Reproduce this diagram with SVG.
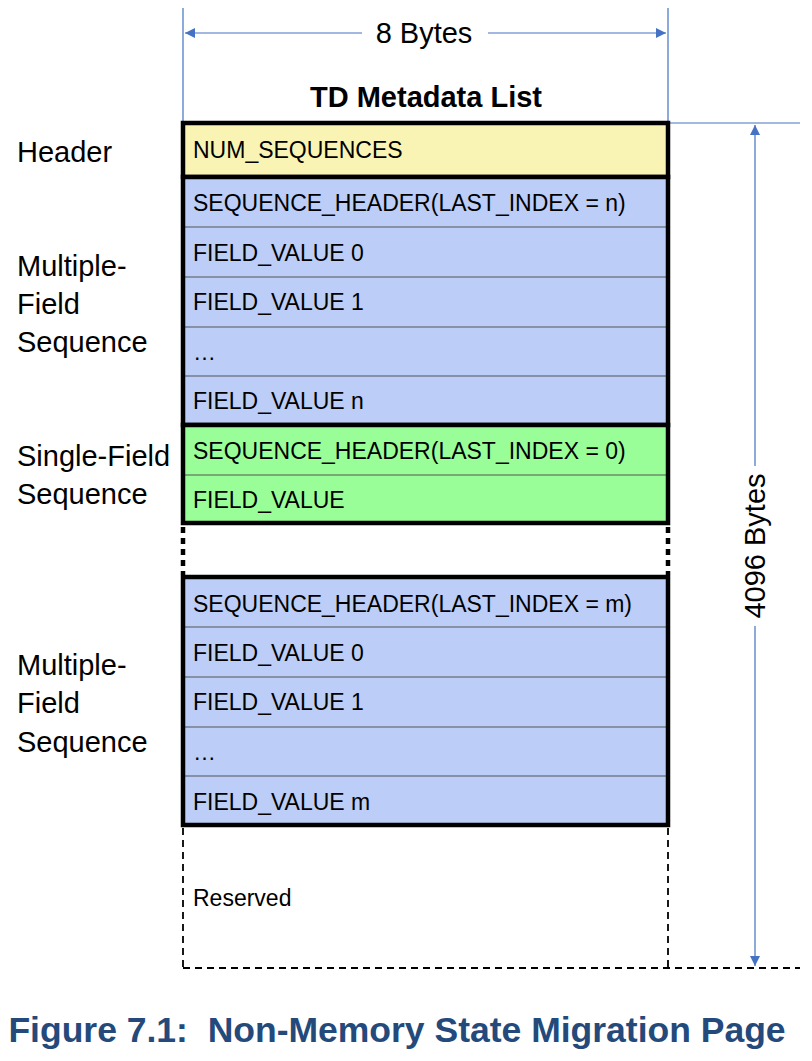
<svg xmlns="http://www.w3.org/2000/svg" width="812" height="1061" viewBox="0 0 812 1061">
  <defs>
    <marker id="arr" viewBox="0 0 10 10" refX="10" refY="5" markerWidth="10" markerHeight="10" markerUnits="userSpaceOnUse" orient="auto-start-reverse">
      <path d="M0,0 L10,5 L0,10 z" fill="#4472C4"/>
    </marker>
    <style>
      .t { font-family: "Liberation Sans", Arial, sans-serif; font-size: 23px; fill: #000; }
      .lab { font-family: "Liberation Sans", Arial, sans-serif; font-size: 29px; fill: #000; }
      .dim { stroke: #4472C4; stroke-width: 1.2; fill: none; }
      .sep { stroke: #555; stroke-width: 1.2; }
      .frame { fill: none; stroke: #000; stroke-width: 4.5; }
      .yellow { fill: #FAF4B4; }
      .blue { fill: #BCCDF7; }
      .green { fill: #9AFE98; }
    </style>
  </defs>
  <rect width="812" height="1061" fill="#fff"/>

  <g id="connectors">
    <line class="dim" x1="183" y1="8" x2="183" y2="121"/>
    <line class="dim" x1="668" y1="8" x2="668" y2="121"/>
    <line class="dim" x1="185" y1="33" x2="362" y2="33" marker-start="url(#arr)"/>
    <line class="dim" x1="488" y1="33" x2="666" y2="33" marker-end="url(#arr)"/>
    <line class="dim" x1="670" y1="123" x2="800" y2="123"/>
    <line class="dim" x1="755" y1="125" x2="755" y2="466" marker-start="url(#arr)"/>
    <line class="dim" x1="755" y1="626" x2="755" y2="966" marker-end="url(#arr)"/>
  </g>

  <g id="dimension-labels">
    <text class="lab" x="424" y="43" text-anchor="middle" font-size="28.5">8 Bytes</text>
    <text class="lab" transform="translate(765,546) rotate(-90)" text-anchor="middle" font-size="30">4096 Bytes</text>
    <text class="lab" x="426" y="107" text-anchor="middle" font-weight="bold" font-size="28.5">TD Metadata List</text>
  </g>

  <g id="side-labels">
    <text class="lab" x="17" y="162">Header</text>
    <text class="lab" x="17" y="276">Multiple-</text>
    <text class="lab" x="17" y="314">Field</text>
    <text class="lab" x="17" y="352">Sequence</text>
    <text class="lab" x="17" y="466">Single-Field</text>
    <text class="lab" x="17" y="504">Sequence</text>
    <text class="lab" x="17" y="675">Multiple-</text>
    <text class="lab" x="17" y="713">Field</text>
    <text class="lab" x="17" y="752">Sequence</text>
  </g>

  <g id="header">
    <rect class="yellow" x="183" y="123" width="485" height="54"/>
    <text class="t" x="193" y="158">NUM_SEQUENCES</text>
    <rect class="frame" x="183" y="123" width="485" height="54"/>
  </g>

  <g id="multi-seq-1">
    <rect class="blue" x="183" y="177" width="485" height="248"/>
    <line class="sep" x1="185" y1="227" x2="666" y2="227"/>
    <line class="sep" x1="185" y1="277" x2="666" y2="277"/>
    <line class="sep" x1="185" y1="327" x2="666" y2="327"/>
    <line class="sep" x1="185" y1="376" x2="666" y2="376"/>
    <text class="t" x="193" y="211">SEQUENCE_HEADER(LAST_INDEX = n)</text>
    <text class="t" x="193" y="261">FIELD_VALUE 0</text>
    <text class="t" x="193" y="310">FIELD_VALUE 1</text>
    <text class="t" x="193" y="360">…</text>
    <text class="t" x="193" y="409">FIELD_VALUE n</text>
    <rect class="frame" x="183" y="177" width="485" height="248"/>
  </g>

  <g id="single-seq">
    <rect class="green" x="183" y="425" width="485" height="98"/>
    <line class="sep" x1="185" y1="475" x2="666" y2="475"/>
    <text class="t" x="193" y="459">SEQUENCE_HEADER(LAST_INDEX = 0)</text>
    <text class="t" x="193" y="508">FIELD_VALUE</text>
    <rect class="frame" x="183" y="425" width="485" height="98"/>
  </g>

  <g id="gap">
    <line x1="183" y1="527" x2="183" y2="575" stroke="#000" stroke-width="4.5" stroke-dasharray="6,5"/>
    <line x1="668" y1="527" x2="668" y2="575" stroke="#000" stroke-width="4.5" stroke-dasharray="6,5"/>
  </g>

  <g id="multi-seq-2">
    <rect class="blue" x="183" y="577" width="485" height="248"/>
    <line class="sep" x1="185" y1="627" x2="666" y2="627"/>
    <line class="sep" x1="185" y1="677" x2="666" y2="677"/>
    <line class="sep" x1="185" y1="727" x2="666" y2="727"/>
    <line class="sep" x1="185" y1="776" x2="666" y2="776"/>
    <text class="t" x="193" y="612">SEQUENCE_HEADER(LAST_INDEX = m)</text>
    <text class="t" x="193" y="661">FIELD_VALUE 0</text>
    <text class="t" x="193" y="710">FIELD_VALUE 1</text>
    <text class="t" x="193" y="760">…</text>
    <text class="t" x="193" y="810">FIELD_VALUE m</text>
    <rect class="frame" x="183" y="577" width="485" height="248"/>
  </g>

  <g id="reserved">
    <line x1="183" y1="828" x2="183" y2="968" stroke="#000" stroke-width="1.8" stroke-dasharray="7,5"/>
    <line x1="668" y1="828" x2="668" y2="968" stroke="#000" stroke-width="1.8" stroke-dasharray="7,5"/>
    <line x1="183" y1="968" x2="800" y2="968" stroke="#000" stroke-width="1.8" stroke-dasharray="7,5"/>
    <text class="t" x="193" y="906">Reserved</text>
  </g>

  <g id="caption">
    <text x="397" y="1042" text-anchor="middle" xml:space="preserve" font-family="'Liberation Sans', Arial, sans-serif" font-size="35.5" font-weight="bold" fill="#244A7C">Figure 7.1:  Non-Memory State Migration Page</text>
  </g>
</svg>
